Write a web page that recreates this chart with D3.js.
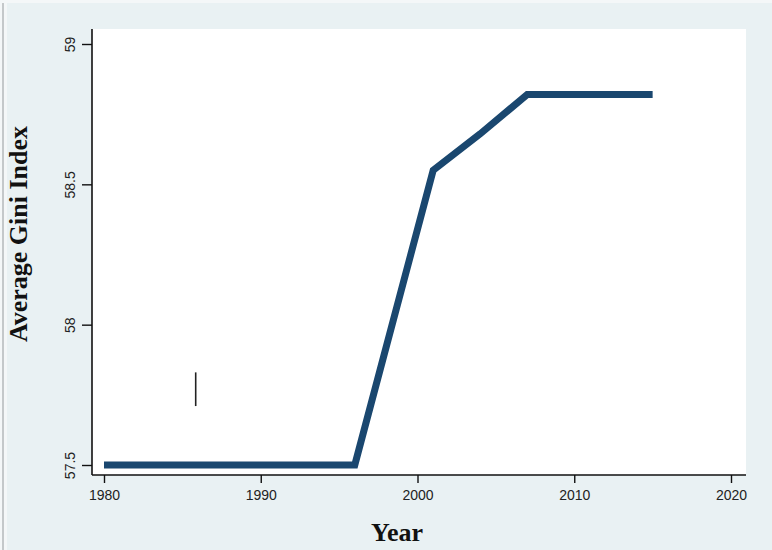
<!DOCTYPE html>
<html>
<head>
<meta charset="utf-8">
<script src="https://cdn.jsdelivr.net/npm/d3@7"></script>
<style>
  body { margin: 0; background: #fff; }
  svg { display: block; }
</style>
</head>
<body>
<div id="chart"></div>
<script>
// data
const years = [1980, 1996, 2001, 2004, 2007, 2015];
const gini = [57.5, 57.5, 58.55, 58.68, 58.82, 58.82];
const xTicks = [1980, 1990, 2000, 2010, 2020];
const yTicks = [57.5, 58, 58.5, 59];
const yTickLabels = ["57.5", "58", "58.5", "59"];
// the small stray spike near 1986
const spikeYear = [1985.85];
const spikeLo = [57.71];
const spikeHi = [57.83];

const W = 772, H = 550;
const plot = {left: 92, right: 746, top: 29, bottom: 475};

const svg = d3.select("#chart").append("svg")
    .attr("width", W)
    .attr("height", H);

// background + frame
svg.append("rect").attr("width", W).attr("height", H).attr("fill", "#e9f1f3");
svg.append("rect").attr("x", 0).attr("y", 0).attr("width", 7).attr("height", H).attr("fill", "#f4f7f8");
svg.append("rect").attr("x", 2).attr("y", 0).attr("width", 2).attr("height", H).attr("fill", "#c4c8ca");
svg.append("rect").attr("x", 0).attr("y", 0).attr("width", W).attr("height", 3).attr("fill", "#f4f7f8");

svg.append("rect")
    .attr("x", plot.left)
    .attr("y", plot.top)
    .attr("width", plot.right - plot.left)
    .attr("height", plot.bottom - plot.top)
    .attr("fill", "#fff");

const xscale = d3.scaleLinear().domain([1980, 2020]).range([104, 731]);
const yscale = d3.scaleLinear().domain([57.5, 59]).range([465, 44]);

// x axis
const xAxis = d3.axisBottom(xscale)
    .tickValues(xTicks)
    .tickFormat(d3.format("d"))
    .tickSize(8)
    .tickSizeOuter(0);

const gX = svg.append("g")
    .attr("transform", `translate(0,${plot.bottom})`)
    .call(xAxis);
gX.select(".domain").remove();
gX.append("line")
    .attr("x1", plot.left).attr("x2", plot.right)
    .attr("stroke", "#111").attr("stroke-width", 1.6);
gX.selectAll(".tick line").attr("stroke", "#111").attr("stroke-width", 1.4);
gX.selectAll(".tick text")
    .attr("y", 15)
    .attr("fill", "#222")
    .style("font-family", "'Liberation Sans', Arial, sans-serif")
    .style("font-size", "14px");

// y axis
const yAxis = d3.axisLeft(yscale)
    .tickValues(yTicks)
    .tickFormat((d, i) => yTickLabels[i])
    .tickSize(10)
    .tickSizeOuter(0);

const gY = svg.append("g")
    .attr("transform", `translate(${plot.left},0)`)
    .call(yAxis);
gY.select(".domain").remove();
gY.append("line")
    .attr("y1", plot.top).attr("y2", plot.bottom)
    .attr("stroke", "#111").attr("stroke-width", 1.6);
gY.selectAll(".tick line").attr("stroke", "#111").attr("stroke-width", 1.4);
gY.selectAll(".tick text")
    .attr("x", null).attr("dy", null)
    .attr("transform", "translate(-17,0) rotate(-90)")
    .attr("text-anchor", "middle")
    .attr("fill", "#222")
    .style("font-family", "'Liberation Sans', Arial, sans-serif")
    .style("font-size", "14px");

// axis titles
svg.append("text")
    .attr("x", 397)
    .attr("y", 541)
    .attr("text-anchor", "middle")
    .style("font-family", "'Liberation Serif', 'Times New Roman', serif")
    .style("font-weight", "bold")
    .style("font-size", "26px")
    .attr("fill", "#111")
    .text("Year");

svg.append("text")
    .attr("transform", `translate(27,234) rotate(-90)`)
    .attr("text-anchor", "middle")
    .style("font-family", "'Liberation Serif', 'Times New Roman', serif")
    .style("font-weight", "bold")
    .style("font-size", "26px")
    .attr("fill", "#111")
    .text("Average Gini Index");

// series line
const series = years.map((y, i) => ({x: y, y: gini[i]}));
const line = d3.line()
    .x(d => xscale(d.x))
    .y(d => yscale(d.y));

svg.append("path")
    .datum(series)
    .attr("fill", "none")
    .attr("stroke", "#1a476f")
    .attr("stroke-width", 7)
    .attr("stroke-linejoin", "miter")
    .attr("stroke-linecap", "butt")
    .attr("d", line);

// stray spike
svg.selectAll(".spike")
    .data(spikeYear.map((yr, i) => ({yr, lo: spikeLo[i], hi: spikeHi[i]})))
    .enter().append("line")
    .attr("class", "spike")
    .attr("x1", d => xscale(d.yr)).attr("x2", d => xscale(d.yr))
    .attr("y1", d => yscale(d.lo)).attr("y2", d => yscale(d.hi))
    .attr("stroke", "#222")
    .attr("stroke-width", 1.6);
</script>
</body>
</html>
